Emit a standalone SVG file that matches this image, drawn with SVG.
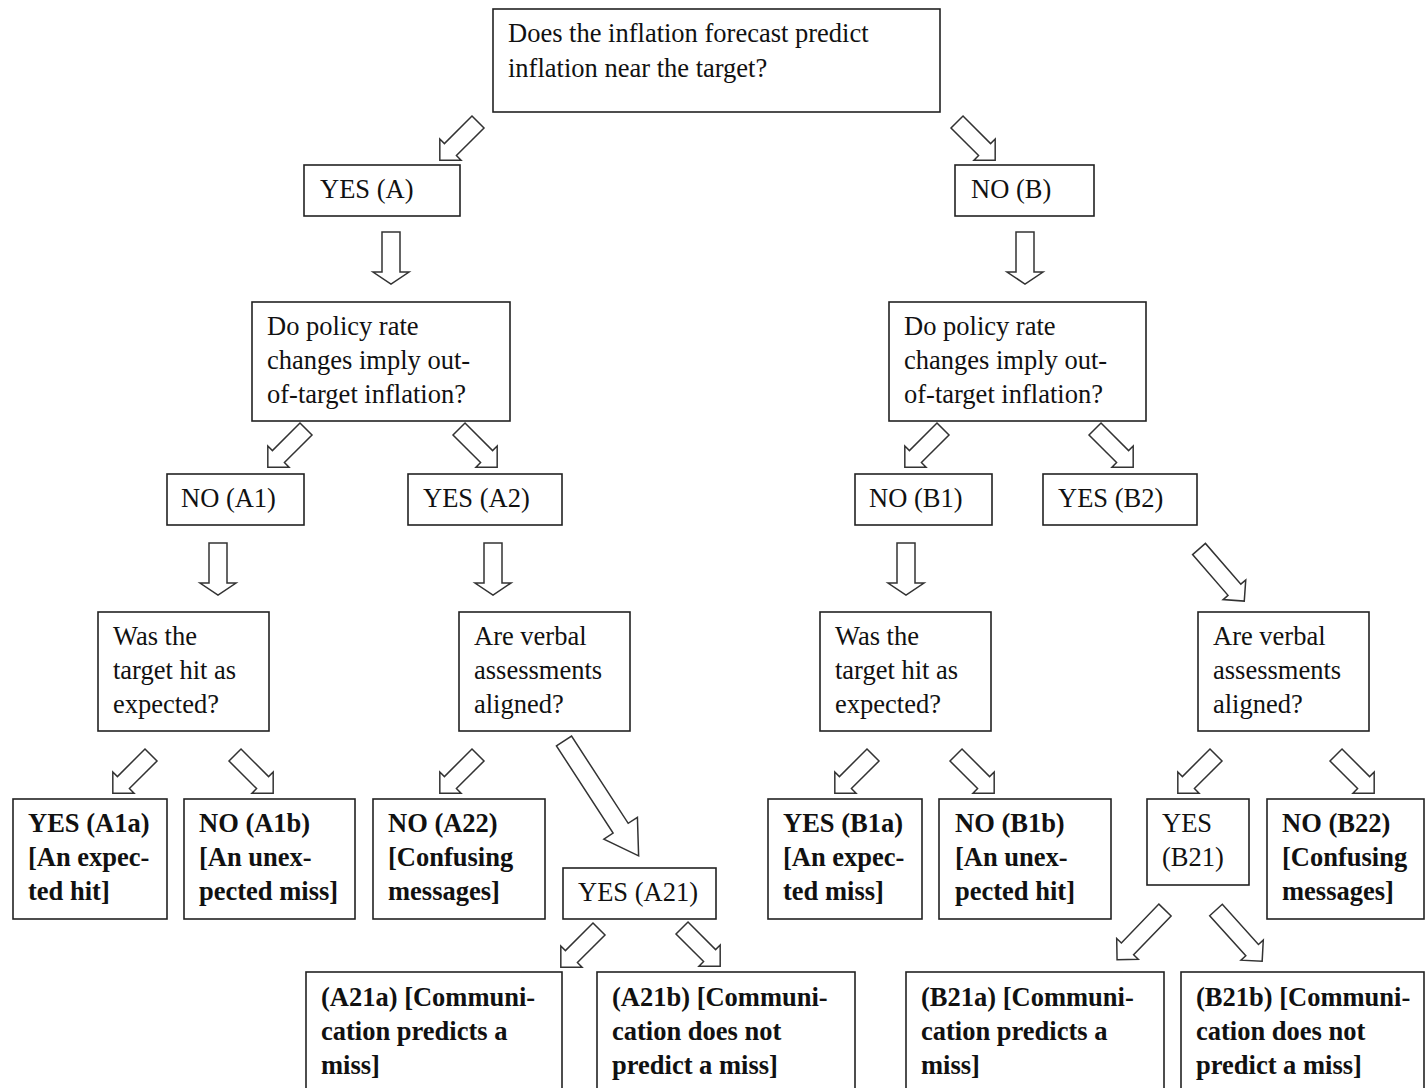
<svg xmlns="http://www.w3.org/2000/svg" width="1425" height="1088" viewBox="0 0 1425 1088">
<style>
.b{fill:#fff;stroke:#222;stroke-width:1.6}
.t{font-family:"Liberation Serif","Times New Roman",serif;font-size:26.5px;fill:#111}
.bd{font-weight:bold}
.a{fill:#fff;stroke:#333;stroke-width:1.5;stroke-linejoin:miter}
</style>
<defs>
<path id="d" d="M-9,0H9V40H18L0,52L-18,40H-9Z"/>
<path id="s" d="M-8.5,0H8.5V39H15L0,54L-15,39H-8.5Z"/>
<path id="l" d="M-8.5,0H8.5V54H15L0,69L-15,54H-8.5Z"/>
<path id="g" d="M-9,0H9V104H20L0,137L-20,104H-9Z"/>
</defs>
<rect width="1425" height="1088" fill="#fff"/>
<g id="connectors" class="a">
<use href="#s" transform="translate(478,122) rotate(45)"/>
<use href="#s" transform="translate(957,122) rotate(-45)"/>
<use href="#d" transform="translate(391,232)"/>
<use href="#d" transform="translate(1025,232)"/>
<use href="#s" transform="translate(306,429) rotate(45)"/>
<use href="#s" transform="translate(459,429) rotate(-45)"/>
<use href="#s" transform="translate(943,429) rotate(45)"/>
<use href="#s" transform="translate(1095,429) rotate(-45)"/>
<use href="#d" transform="translate(218,543)"/>
<use href="#d" transform="translate(493,543)"/>
<use href="#d" transform="translate(906,543)"/>
<use href="#l" transform="translate(1199,549) rotate(-41)"/>
<use href="#s" transform="translate(151,755) rotate(45)"/>
<use href="#s" transform="translate(235,755) rotate(-45)"/>
<use href="#s" transform="translate(478,755) rotate(45)"/>
<use href="#g" transform="translate(564,741) rotate(-33)"/>
<use href="#s" transform="translate(873,755) rotate(45)"/>
<use href="#s" transform="translate(956,755) rotate(-45)"/>
<use href="#s" transform="translate(1216,755) rotate(45)"/>
<use href="#s" transform="translate(1336,755) rotate(-45)"/>
<use href="#s" transform="translate(599,929) rotate(45)"/>
<use href="#s" transform="translate(682,928) rotate(-45)"/>
<use href="#l" transform="translate(1165,910) rotate(44)"/>
<use href="#l" transform="translate(1216,910) rotate(-42)"/>
</g>
<g id="root"><rect class="b" x="493" y="9" width="447" height="103"/>
<text class="t" x="508" y="42">Does the inflation forecast predict</text>
<text class="t" x="508" y="77">inflation near the target?</text></g>
<g id="yesA"><rect class="b" x="304" y="165" width="156" height="51"/><text class="t" x="320" y="198">YES (A)</text></g>
<g id="noB"><rect class="b" x="955" y="165" width="139" height="51"/><text class="t" x="971" y="198">NO (B)</text></g>
<g id="polA"><rect class="b" x="252" y="302" width="258" height="119"/>
<text class="t" x="267" y="335">Do policy rate</text><text class="t" x="267" y="369">changes imply out-</text><text class="t" x="267" y="403">of-target inflation?</text></g>
<g id="polB"><rect class="b" x="889" y="302" width="257" height="119"/>
<text class="t" x="904" y="335">Do policy rate</text><text class="t" x="904" y="369">changes imply out-</text><text class="t" x="904" y="403">of-target inflation?</text></g>
<g id="noA1"><rect class="b" x="167" y="474" width="137" height="51"/><text class="t" x="181" y="507">NO (A1)</text></g>
<g id="yesA2"><rect class="b" x="408" y="474" width="154" height="51"/><text class="t" x="423" y="507">YES (A2)</text></g>
<g id="noB1"><rect class="b" x="855" y="474" width="137" height="51"/><text class="t" x="869" y="507">NO (B1)</text></g>
<g id="yesB2"><rect class="b" x="1043" y="474" width="154" height="51"/><text class="t" x="1058" y="507">YES (B2)</text></g>
<g id="wasA"><rect class="b" x="98" y="612" width="171" height="119"/>
<text class="t" x="113" y="645">Was the</text><text class="t" x="113" y="679">target hit as</text><text class="t" x="113" y="713">expected?</text></g>
<g id="verA"><rect class="b" x="459" y="612" width="171" height="119"/>
<text class="t" x="474" y="645">Are verbal</text><text class="t" x="474" y="679">assessments</text><text class="t" x="474" y="713">aligned?</text></g>
<g id="wasB"><rect class="b" x="820" y="612" width="171" height="119"/>
<text class="t" x="835" y="645">Was the</text><text class="t" x="835" y="679">target hit as</text><text class="t" x="835" y="713">expected?</text></g>
<g id="verB"><rect class="b" x="1198" y="612" width="171" height="119"/>
<text class="t" x="1213" y="645">Are verbal</text><text class="t" x="1213" y="679">assessments</text><text class="t" x="1213" y="713">aligned?</text></g>
<g id="A1a"><rect class="b" x="13" y="799" width="154" height="120"/>
<text class="t bd" x="28" y="832">YES (A1a)</text><text class="t bd" x="28" y="866">[An expec-</text><text class="t bd" x="28" y="900">ted hit]</text></g>
<g id="A1b"><rect class="b" x="184" y="799" width="171" height="120"/>
<text class="t bd" x="199" y="832">NO (A1b)</text><text class="t bd" x="199" y="866">[An unex-</text><text class="t bd" x="199" y="900">pected miss]</text></g>
<g id="A22"><rect class="b" x="373" y="799" width="172" height="120"/>
<text class="t bd" x="388" y="832">NO (A22)</text><text class="t bd" x="388" y="866">[Confusing</text><text class="t bd" x="388" y="900">messages]</text></g>
<g id="A21"><rect class="b" x="563" y="868" width="153" height="51"/><text class="t" x="578" y="901">YES (A21)</text></g>
<g id="B1a"><rect class="b" x="768" y="799" width="154" height="120"/>
<text class="t bd" x="783" y="832">YES (B1a)</text><text class="t bd" x="783" y="866">[An expec-</text><text class="t bd" x="783" y="900">ted miss]</text></g>
<g id="B1b"><rect class="b" x="939" y="799" width="172" height="120"/>
<text class="t bd" x="955" y="832">NO (B1b)</text><text class="t bd" x="955" y="866">[An unex-</text><text class="t bd" x="955" y="900">pected hit]</text></g>
<g id="B21"><rect class="b" x="1147" y="799" width="102" height="86"/>
<text class="t" x="1162" y="832">YES</text><text class="t" x="1162" y="866">(B21)</text></g>
<g id="B22"><rect class="b" x="1267" y="799" width="157" height="120"/>
<text class="t bd" x="1282" y="832">NO (B22)</text><text class="t bd" x="1282" y="866">[Confusing</text><text class="t bd" x="1282" y="900">messages]</text></g>
<g id="A21a"><rect class="b" x="306" y="972" width="256" height="130"/>
<text class="t bd" x="321" y="1006">(A21a) [Communi-</text><text class="t bd" x="321" y="1040">cation predicts a</text><text class="t bd" x="321" y="1074">miss]</text></g>
<g id="A21b"><rect class="b" x="597" y="972" width="258" height="130"/>
<text class="t bd" x="612" y="1006">(A21b) [Communi-</text><text class="t bd" x="612" y="1040">cation does not</text><text class="t bd" x="612" y="1074">predict a miss]</text></g>
<g id="B21a"><rect class="b" x="906" y="972" width="258" height="130"/>
<text class="t bd" x="921" y="1006">(B21a) [Communi-</text><text class="t bd" x="921" y="1040">cation predicts a</text><text class="t bd" x="921" y="1074">miss]</text></g>
<g id="B21b"><rect class="b" x="1181" y="972" width="243" height="130"/>
<text class="t bd" x="1196" y="1006">(B21b) [Communi-</text><text class="t bd" x="1196" y="1040">cation does not</text><text class="t bd" x="1196" y="1074">predict a miss]</text></g>
</svg>
